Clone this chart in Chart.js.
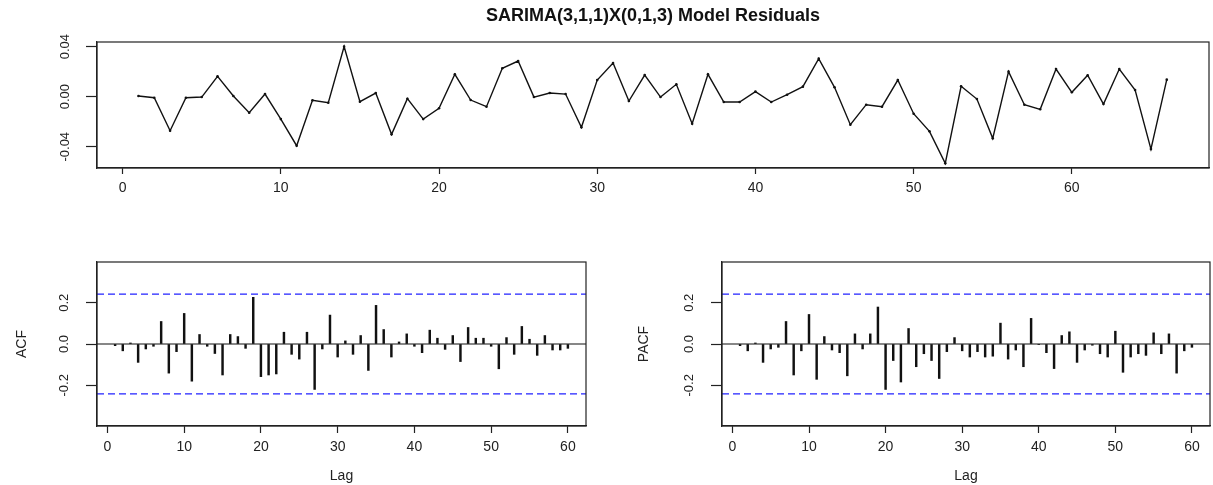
<!DOCTYPE html>
<html>
<head>
<meta charset="utf-8">
<script src="https://cdn.jsdelivr.net/npm/chart.js@4/dist/chart.umd.min.js"></script>
<style>
  html, body { margin: 0; padding: 0; background: #fff; }
  #wrap { position: relative; width: 1213px; height: 485px; background: #fff; overflow: hidden; }
  canvas { position: absolute; }
</style>
</head>
<body>
<div id="wrap">
  <canvas id="top" width="1213" height="210" style="left:0;top:0;width:1213px;height:210px"></canvas>
  <canvas id="acf" width="620" height="255" style="left:0;top:230px;width:620px;height:255px"></canvas>
  <canvas id="pacf" width="593" height="255" style="left:620px;top:230px;width:593px;height:255px"></canvas>
</div>
<script>
// ---------- data ----------
const chartTitle = "SARIMA(3,1,1)X(0,1,3) Model Residuals";
const residuals = [0.0005, -0.0008, -0.0272, -0.0008, -0.0003, 0.0163, 0.0005, -0.0128, 0.0021, -0.0179,
  -0.0392, -0.0029, -0.0048, 0.0400, -0.0040, 0.0029, -0.0301, -0.0016, -0.0179, -0.0093,
  0.0179, -0.0027, -0.0080, 0.0227, 0.0285, -0.0003, 0.0029, 0.0021, -0.0245, 0.0133,
  0.0269, -0.0035, 0.0173, -0.0003, 0.0099, -0.0216, 0.0179, -0.0043, -0.0043, 0.0040,
  -0.0043, 0.0016, 0.0080, 0.0304, 0.0075, -0.0224, -0.0064, -0.0080, 0.0133, -0.0136,
  -0.0277, -0.0533, 0.0083, -0.0019, -0.0333, 0.0200, -0.0064, -0.0101, 0.0221, 0.0035,
  0.0171, -0.0059, 0.0221, 0.0053, -0.0419, 0.0136];
const acfValues = [-0.008, -0.033, 0.005, -0.089, -0.024, -0.011, 0.109, -0.141, -0.037, 0.148,
  -0.180, 0.046, -0.011, -0.046, -0.150, 0.046, 0.036, -0.021, 0.226, -0.158,
  -0.150, -0.145, 0.057, -0.050, -0.073, 0.057, -0.220, -0.024, 0.140, -0.063,
  0.015, -0.050, 0.041, -0.128, 0.187, 0.070, -0.063, 0.010, 0.049, -0.011,
  -0.042, 0.067, 0.028, -0.026, 0.041, -0.085, 0.080, 0.028, 0.028, -0.011,
  -0.120, 0.031, -0.050, 0.085, 0.023, -0.055, 0.041, -0.029, -0.029, -0.021];
const pacfValues = [-0.008, -0.033, 0.005, -0.089, -0.024, -0.016, 0.109, -0.150, -0.033, 0.143,
  -0.171, 0.036, -0.029, -0.042, -0.154, 0.049, -0.024, 0.049, 0.179, -0.220,
  -0.080, -0.184, 0.075, -0.110, -0.047, -0.080, -0.167, -0.037, 0.031, -0.033,
  -0.063, -0.037, -0.063, -0.059, 0.101, -0.073, -0.029, -0.110, 0.124, -0.003,
  -0.042, -0.119, 0.041, 0.059, -0.089, -0.029, -0.006, -0.047, -0.063, 0.062,
  -0.137, -0.063, -0.047, -0.055, 0.054, -0.047, 0.049, -0.141, -0.033, -0.016];
const confLimit = 0.241;
const residXTicks = [0, 10, 20, 30, 40, 50, 60];
const residYTicks = [-0.04, -0.02, 0, 0.02, 0.04];
const residYLabels = {"-0.04": "-0.04", "0": "0.00", "0.04": "0.04"};
const lagTicks = [0, 10, 20, 30, 40, 50, 60];
const corrYTicks = [-0.2, 0, 0.2];
const corrYLabels = ["-0.2", "0.0", "0.2"];
const residXRange = [-1.62, 68.67];
const residYRange = [-0.0570, 0.0437];
const lagRange = [-1.36, 62.36];
const corrYRange = [-0.397, 0.397];

// ---------- setup ----------
Chart.defaults.font.family = "'Liberation Sans', Arial, sans-serif";
Chart.defaults.color = '#1a1a1a';
Chart.defaults.animation = false;
Chart.defaults.plugins.legend.display = false;
Chart.defaults.plugins.tooltip.enabled = false;

const boxPlugin = {
  id: 'rbox',
  afterDraw(chart) {
    const {ctx, chartArea: a} = chart;
    ctx.save();
    ctx.strokeStyle = '#222';
    ctx.lineWidth = 1.2;
    ctx.strokeRect(a.left, a.top, a.right - a.left, a.bottom - a.top);
    ctx.restore();
  }
};

function fixedTicks(vals) {
  return function (scale) { scale.ticks = vals.map(v => ({value: v})); };
}

// ---------- residual series ----------
new Chart(document.getElementById('top'), {
  type: 'line',
  data: {
    datasets: [{
      data: residuals.map((v, i) => ({x: i + 1, y: v})),
      borderColor: '#111',
      borderWidth: 1.4,
      pointRadius: 1.3,
      pointBackgroundColor: '#111',
      pointBorderWidth: 0,
      tension: 0
    }]
  },
  options: {
    responsive: false,
    layout: {padding: {top: 0, right: 4, left: 0, bottom: 0}},
    plugins: {
      title: {
        display: true, text: chartTitle, fullSize: false, color: '#111',
        font: {size: 18, weight: 'bold'}, padding: {top: 5, bottom: 15.4}
      }
    },
    scales: {
      x: {
        type: 'linear', min: residXRange[0], max: residXRange[1],
        afterBuildTicks: fixedTicks(residXTicks),
        afterFit(s) { s.height = 42; },
        grid: {drawOnChartArea: false, drawTicks: true, tickLength: 6, tickColor: '#222', tickWidth: 1.2},
        border: {display: true, color: '#222', width: 1.2},
        ticks: {font: {size: 14}, padding: 6, maxRotation: 0, color: '#222'}
      },
      y: {
        type: 'linear', min: residYRange[0], max: residYRange[1],
        afterBuildTicks: fixedTicks(residYTicks),
        afterFit(s) { s.width = 97; },
        grid: {drawOnChartArea: false, drawTicks: true, tickLength: 11, tickColor: '#222', tickWidth: 1.2},
        border: {display: true, color: '#222', width: 1.2},
        ticks: {
          font: {size: 13}, padding: 6, minRotation: 90, maxRotation: 90, crossAlign: 'center', color: '#222',
          callback: (v) => { const k = String(Math.round(v * 100) / 100); return residYLabels[k] !== undefined ? residYLabels[k] : ''; }
        }
      }
    }
  },
  plugins: [boxPlugin]
});

// ---------- correlogram ----------
function corrChart(id, values, yTitle, axisWidth, padRight, titlePadTop, tickPad) {
  const lags = values.map((v, i) => i + 1);
  return new Chart(document.getElementById(id), {
    type: 'bar',
    data: {
      datasets: [
        {type: 'bar', data: values.map((v, i) => ({x: lags[i], y: v})), backgroundColor: '#111', barThickness: 1.8, order: 2},
        {type: 'line', data: lagRange.map(x => ({x: x, y: 0})), borderColor: '#111', borderWidth: 1.2, pointRadius: 0, order: 1},
        {type: 'line', data: lagRange.map(x => ({x: x, y: confLimit})), borderColor: '#2222ff', borderWidth: 1.3, borderDash: [7, 4], pointRadius: 0, order: 0},
        {type: 'line', data: lagRange.map(x => ({x: x, y: -confLimit})), borderColor: '#2222ff', borderWidth: 1.3, borderDash: [7, 4], pointRadius: 0, order: 0}
      ]
    },
    options: {
      responsive: false,
      layout: {padding: {top: 32, right: padRight, left: 0, bottom: 0}},
      scales: {
        x: {
          type: 'linear', min: lagRange[0], max: lagRange[1], offset: false,
          afterBuildTicks: fixedTicks(lagTicks),
          afterFit(s) { s.height = 59; },
          grid: {offset: false, drawOnChartArea: false, drawTicks: true, tickLength: 7, tickColor: '#222', tickWidth: 1.2},
          border: {display: true, color: '#222', width: 1.2},
          ticks: {font: {size: 14}, padding: 6, maxRotation: 0, color: '#222'},
          title: {display: true, text: 'Lag', font: {size: 14}, color: '#222', padding: {top: 0, bottom: 0}}
        },
        y: {
          type: 'linear', min: corrYRange[0], max: corrYRange[1],
          afterBuildTicks: fixedTicks(corrYTicks),
          afterFit(s) { s.width = axisWidth; },
          grid: {drawOnChartArea: false, drawTicks: true, tickLength: 11, tickColor: '#222', tickWidth: 1.2},
          border: {display: true, color: '#222', width: 1.2},
          ticks: {
            font: {size: 13}, padding: tickPad, minRotation: 90, maxRotation: 90, crossAlign: 'center', color: '#222',
            callback: (v, i) => corrYLabels[i]
          },
          title: {display: true, text: yTitle, font: {size: 14}, color: '#222', padding: {top: titlePadTop, bottom: 0}}
        }
      }
    },
    plugins: [boxPlugin]
  });
}

corrChart('acf', acfValues, 'ACF', 97, 34, 13.8, 10);
corrChart('pacf', pacfValues, 'PACF', 102, 3, 15.4, 10.3);
</script>
</body>
</html>
